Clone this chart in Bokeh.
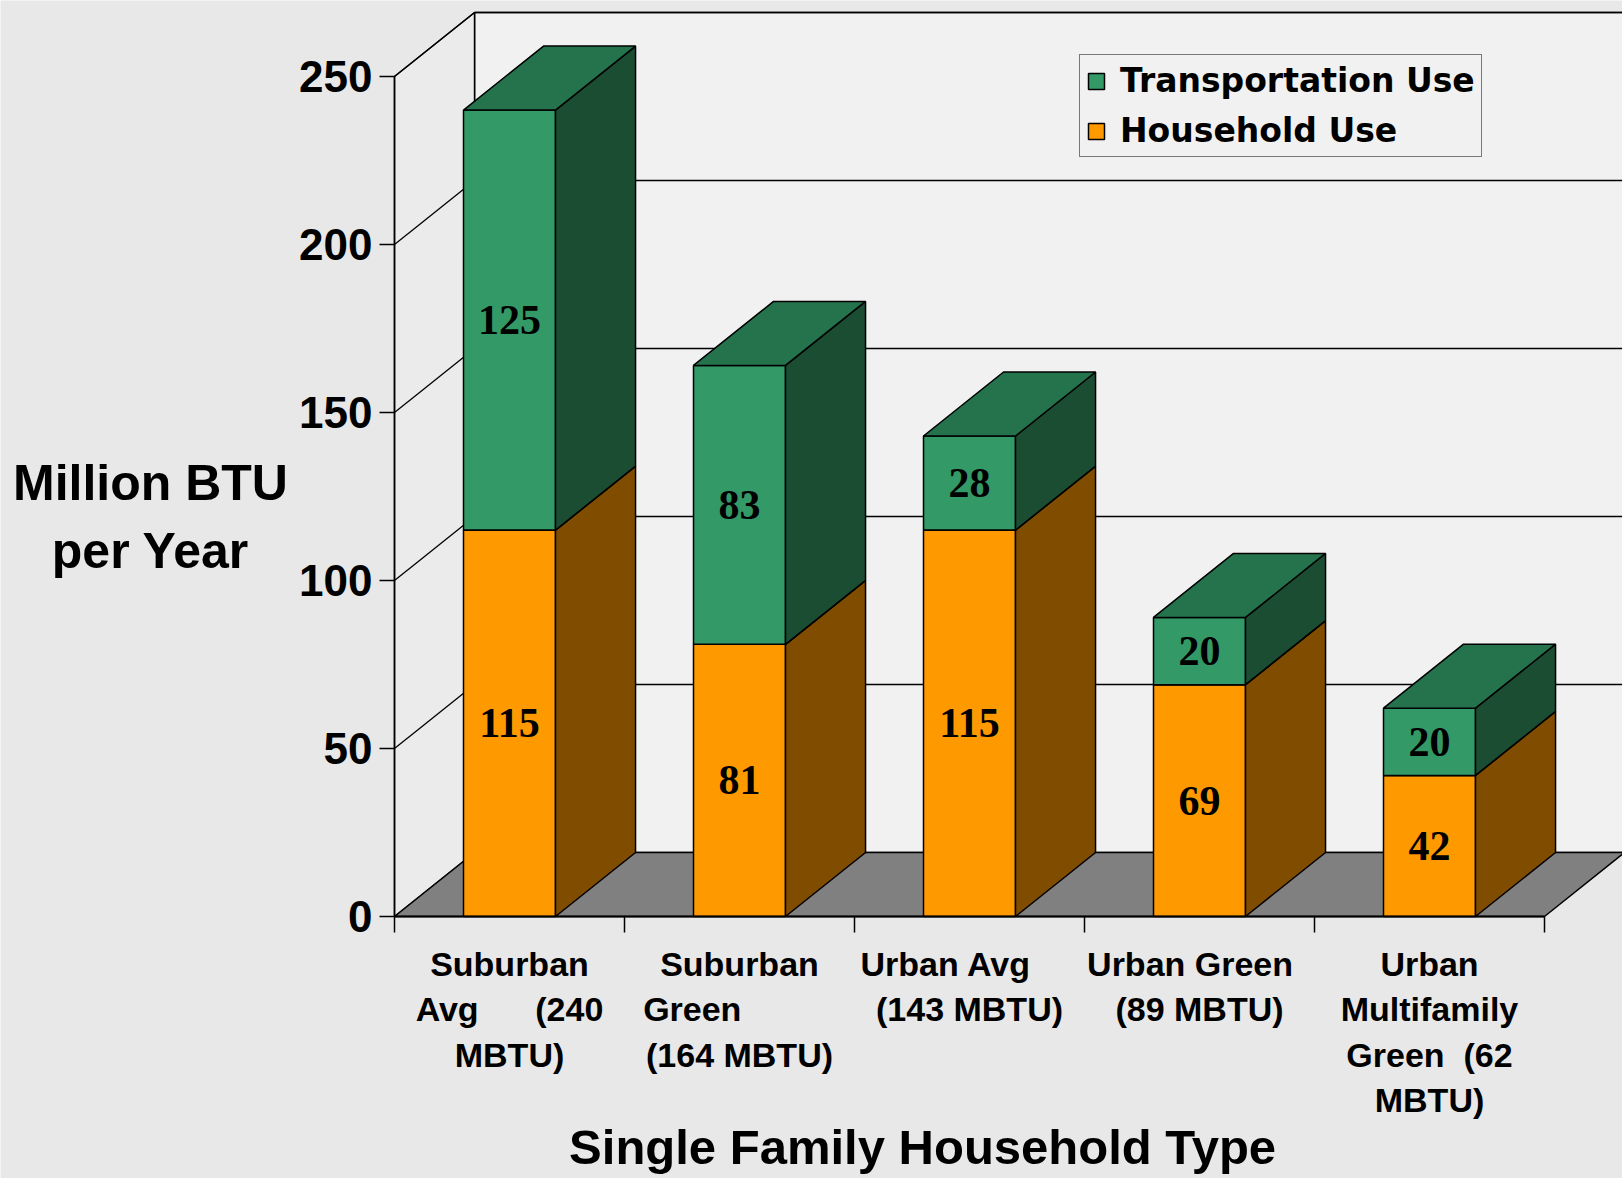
from bokeh.plotting import figure
from bokeh.models import FixedTicker, Legend, LegendItem, Label
from bokeh.core.properties import value
from bokeh.embed import file_html
from bokeh.resources import INLINE

NB = "\u00a0"
# ---- data ----
categories = [
    "Suburban\nAvg" + NB * 6 + "(240\nMBTU)",
    "Suburban\nGreen" + NB * 10 + "\n(164 MBTU)",
    "Urban Avg" + NB * 5 + "\n(143 MBTU)",
    "Urban Green" + NB * 2 + "\n(89 MBTU)",
    "Urban\nMultifamily\nGreen" + NB * 2 + "(62\nMBTU)",
]
household = [115, 81, 115, 69, 42]
transport = [125, 83, 28, 20, 20]
y_ticks = [0, 50, 100, 150, 200, 250]
series_names = ["Transportation Use", "Household Use"]
y_title = ["Million BTU", "per Year"]
x_title = "Single Family Household Type"

# ---- geometry / style ----
Y_MAX = 250
N = len(categories)
BAR_W = 0.40
DX = 0.348      # depth offset in category units
DY = 19.05      # depth offset in value units
BG = "#e8e8e8"

W, H = 1622, 1178
X0_PX, Y0_PX = 394, 916          # where (0, 0) sits on the canvas
PX_PER_CAT, PX_PER_VAL = 230.0, 3.36

x_range = (-X0_PX / PX_PER_CAT, (W - X0_PX) / PX_PER_CAT)
y_range = (-(H - Y0_PX) / PX_PER_VAL, Y0_PX / PX_PER_VAL)

p = figure(width=W, height=H, x_range=x_range, y_range=y_range,
           output_backend="svg", toolbar_location=None, title=None,
           min_border=0, min_border_left=0, min_border_right=0,
           min_border_top=0, min_border_bottom=0)
p.background_fill_color = BG
p.border_fill_color = BG
p.outline_line_color = None
p.xgrid.visible = False
p.ygrid.visible = False

# walls
p.patch([DX, N + DX + 1, N + DX + 1, DX], [DY, DY, Y_MAX + DY, Y_MAX + DY],
        fill_color="#f1f1f1", line_color="black", line_width=1.5)
p.patch([0, DX, DX, 0], [0, DY, Y_MAX + DY, Y_MAX],
        fill_color="#ebebeb", line_color="black", line_width=1.5)
# gridlines on side wall and back wall
gv = [v for v in y_ticks if v > 0]
p.segment(x0=[0] * len(gv), y0=gv, x1=[DX] * len(gv), y1=[v + DY for v in gv],
          line_color="black", line_width=1.3)
p.segment(x0=[DX] * len(gv), y0=[v + DY for v in gv], x1=[N + DX + 1] * len(gv),
          y1=[v + DY for v in gv], line_color="black", line_width=1.3)
# floor
p.patch([0, N, N + DX, DX], [0, 0, DY, DY],
        fill_color="#808080", line_color="black", line_width=1.5)


def boxes(bottoms, tops):
    fx, fy, sx, sy, tx, ty = [], [], [], [], [], []
    for i, (b, t) in enumerate(zip(bottoms, tops)):
        x0 = i + 0.5 - BAR_W / 2
        x1 = x0 + BAR_W
        fx.append([x0, x1, x1, x0]); fy.append([b, b, t, t])
        sx.append([x1, x1 + DX, x1 + DX, x1]); sy.append([b, b + DY, t + DY, t])
        tx.append([x0, x1, x1 + DX, x0 + DX]); ty.append([t, t, t + DY, t + DY])
    return fx, fy, sx, sy, tx, ty


h_top = household
t_top = [h + t for h, t in zip(household, transport)]
hf = boxes([0] * N, h_top)
tf = boxes(h_top, t_top)

hh = p.patches(hf[0], hf[1], fill_color="#FF9900", line_color="black", line_width=1.5)
p.patches(hf[2], hf[3], fill_color="#7F4C00", line_color="black", line_width=1.5)
p.patches(hf[4], hf[5], fill_color="#BF7300", line_color="black", line_width=1.5)
tr = p.patches(tf[0], tf[1], fill_color="#339966", line_color="black", line_width=1.5)
p.patches(tf[2], tf[3], fill_color="#1B4D33", line_color="black", line_width=1.5)
p.patches(tf[4], tf[5], fill_color="#25734D", line_color="black", line_width=1.5)

# data labels
xs = [i + 0.5 for i in range(N)]
p.text(x=xs + xs, y=[h / 2 for h in household] + [h + t / 2 for h, t in zip(household, transport)],
       text=[str(v) for v in household] + [str(v) for v in transport],
       text_align="center", text_baseline="middle",
       text_font=value("Liberation Serif"), text_font_style="bold",
       text_font_size="42px", text_color="black")

# axes (drawn at the data origin, inside the full-canvas frame)
ya = p.yaxis[0]
ya.fixed_location = 0
ya.ticker = FixedTicker(ticks=y_ticks, minor_ticks=[])
ya.bounds = (0, Y_MAX)
ya.axis_line_width = 1.5
ya.major_tick_out = 15
ya.major_tick_in = 0
ya.major_tick_line_width = 1.5
ya.minor_tick_line_color = None
ya.major_label_standoff = 7
ya.major_label_text_font = "Liberation Sans"
ya.major_label_text_font_style = "bold"
ya.major_label_text_font_size = "44px"
ya.major_label_text_color = "black"

xa = p.xaxis[0]
xa.fixed_location = 0
xa.ticker = FixedTicker(ticks=xs, minor_ticks=list(range(N + 1)))
xa.bounds = (0, N)
xa.axis_line_width = 2
xa.major_tick_line_color = None
xa.major_tick_out = 16
xa.major_tick_in = 0
xa.minor_tick_out = 16
xa.minor_tick_in = 0
xa.minor_tick_line_color = "black"
xa.minor_tick_line_width = 1.5
xa.major_label_overrides = {x: c for x, c in zip(xs, categories)}
xa.major_label_standoff = 12
xa.major_label_text_font = "Liberation Sans"
xa.major_label_text_font_style = "bold"
xa.major_label_text_font_size = "34px"
xa.major_label_text_line_height = 1.2
xa.major_label_text_color = "black"

# axis titles
for txt, yv in zip(y_title, [129.0, 108.8]):
    p.add_layout(Label(x=-1.061, y=yv, text=txt, text_align="center",
                       text_baseline="alphabetic", text_font="Liberation Sans",
                       text_font_style="bold", text_font_size="50px", text_color="black"))
p.add_layout(Label(x=2.296, y=-68.6, text=x_title, text_align="center",
                   text_baseline="alphabetic", text_font="Liberation Sans",
                   text_font_style="bold", text_font_size="49px", text_color="black"))

legend = Legend(items=[LegendItem(label=series_names[0], renderers=[tr]),
                       LegendItem(label=series_names[1], renderers=[hh])],
                location=(1079, H - 157))
legend.label_text_font = "DejaVu Sans"
legend.label_text_font_style = "bold"
legend.label_text_font_size = "33px"
legend.label_text_color = "black"
legend.glyph_width = 20
legend.glyph_height = 20
legend.label_standoff = 14
legend.padding = 6
legend.spacing = 11
legend.margin = 0
legend.border_line_color = "black"
legend.border_line_width = 1.5
legend.background_fill_color = "#f1f1f1"
legend.background_fill_alpha = 1
p.add_layout(legend)

open("out.html", "w").write(file_html(p, INLINE))
